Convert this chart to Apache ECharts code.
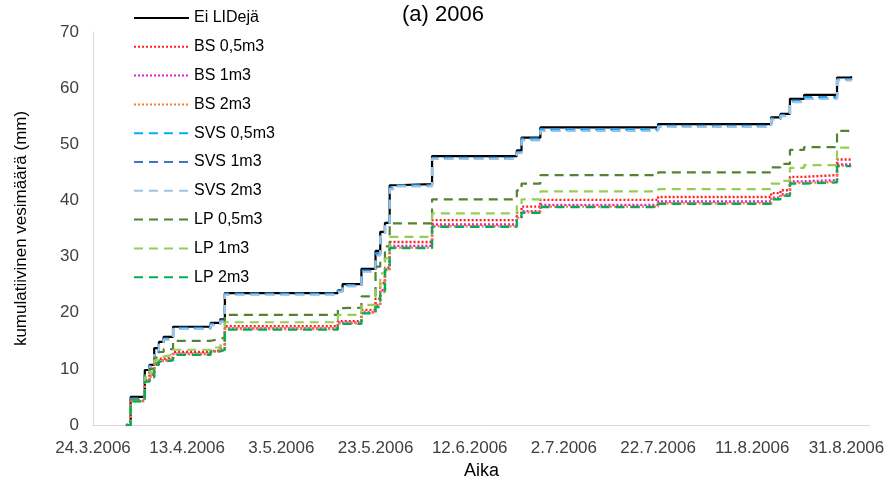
<!DOCTYPE html>
<html>
<head>
<meta charset="utf-8">
<script src="https://cdn.jsdelivr.net/npm/echarts@6/dist/echarts.min.js"></script>
<style>html,body{margin:0;padding:0;background:#fff}#c{width:888px;height:478px}</style>
</head>
<body>
<div id="c"></div>
<script>
const startDate = '2006-03-24';
const endDate = '2006-09-05';
const dates = ['2006-03-31','2006-04-01','2006-04-04','2006-04-05','2006-04-06','2006-04-07','2006-04-08','2006-04-10','2006-04-18','2006-04-20','2006-04-21','2006-05-15','2006-05-16','2006-05-20','2006-05-23','2006-05-24','2006-05-25','2006-05-26','2006-05-27','2006-06-04','2006-06-22','2006-06-23','2006-06-27','2006-07-22','2006-08-15','2006-08-17','2006-08-19','2006-08-22','2006-08-29','2006-09-01'];
const eiLIDeja = [0,5.0,9.8,10.7,13.7,14.8,15.7,17.5,18.2,18.8,23.5,24.0,25.1,27.8,31.0,34.4,36.0,42.7,42.9,47.9,48.9,51.2,53.0,53.6,54.8,55.4,58.1,58.8,61.9,62.1];
const bs05 = [0,4.3,8.0,9.0,11.0,11.8,12.0,13.0,13.3,13.7,17.6,18.5,18.5,20.5,22.5,25.3,28.0,32.6,32.6,36.5,37.8,38.9,40.1,40.6,41.3,41.8,44.2,44.5,47.3,47.3];
const bs1 = [0,4.3,7.9,8.7,10.9,11.5,11.7,12.7,13.2,13.5,17.2,18.2,18.2,20.1,21.4,24.0,27.8,31.9,31.9,35.7,37.1,38.1,39.2,39.8,40.5,41.1,43.4,43.6,46.4,46.4];
const bs2 = [0,4.2,7.8,8.6,10.8,11.4,11.6,12.6,13.1,13.4,17.1,18.1,18.1,20.0,21.2,23.7,27.7,31.6,31.6,35.4,36.9,37.9,38.9,39.5,40.3,40.9,43.1,43.3,46.2,46.2];
const svs05 = [0,4.7,9.3,10.5,13.1,14.5,15.4,17.3,18.0,18.6,23.4,23.9,24.9,27.5,30.6,33.9,35.7,42.3,42.7,47.6,48.6,51.0,52.7,53.3,54.6,55.2,57.8,58.4,61.6,61.8];
const svs1 = [0,4.6,9.1,10.4,12.9,14.4,15.3,17.2,17.9,18.5,23.3,23.8,24.8,27.4,30.4,33.7,35.5,42.1,42.6,47.5,48.5,50.8,52.5,53.2,54.5,55.1,57.6,58.2,61.5,61.7];
const svs2 = [0,4.5,9.0,10.3,12.8,14.3,15.2,17.1,17.8,18.4,23.2,23.7,24.7,27.3,30.2,33.5,35.4,42.0,42.5,47.4,48.4,50.7,52.4,53.1,54.4,55.0,57.5,58.1,61.4,61.6];
const lp05 = [0,4.5,9.0,10.0,12.0,13.0,13.5,15.0,15.3,15.6,19.6,20.8,20.9,22.9,28.2,29.5,31.8,35.9,35.9,40.2,41.8,43.0,44.5,45.0,45.9,46.5,49.0,49.5,52.4,52.4];
const lp1 = [0,4.3,8.5,9.5,11.5,12.2,12.5,13.4,13.8,14.2,18.3,19.6,19.6,21.4,24.5,27.0,29.7,33.5,33.5,37.7,39.0,40.2,41.6,42.0,43.0,43.5,45.8,46.3,49.4,49.4];
const lp2 = [0,4.2,7.7,8.5,10.7,11.3,11.5,12.5,13.1,13.4,17.0,18.0,18.0,19.9,21.0,23.5,27.6,31.5,31.5,35.3,36.8,37.8,38.8,39.4,40.2,40.8,43.0,43.2,46.1,46.1];
const seriesNames = ['Ei LIDejä','BS 0,5m3','BS 1m3','BS 2m3','SVS 0,5m3','SVS 1m3','SVS 2m3','LP 0,5m3','LP 1m3','LP 2m3'];
const seriesValues = [eiLIDeja,bs05,bs1,bs2,svs05,svs1,svs2,lp05,lp1,lp2];
const yTicks = [0,10,20,30,40,50,60,70];

const DAY = 86400000;
const t0 = Date.parse(startDate + 'T00:00:00Z');
const toDay = s => Math.round((Date.parse(s + 'T00:00:00Z') - t0) / DAY);
const fmt = d => { const dt = new Date(t0 + d * DAY); return dt.getUTCDate() + '.' + (dt.getUTCMonth() + 1) + '.' + dt.getUTCFullYear(); };

const styles = [
  {color:'#000000', width:2.2, type:'solid'},
  {color:'#FF2020', width:2.4, type:[2,2]},
  {color:'#E020D0', width:2.4, type:[2,2]},
  {color:'#F08030', width:2.4, type:[2,2]},
  {color:'#00B0F0', width:2.2, type:[9,6]},
  {color:'#4472C4', width:2.2, type:[9,6]},
  {color:'#9DC3E6', width:2.2, type:[9,6]},
  {color:'#548235', width:2.2, type:[9,6]},
  {color:'#92D050', width:2.2, type:[9,6]},
  {color:'#00B050', width:2.2, type:[9,6]}
];

const chart = echarts.init(document.getElementById('c'), null, {renderer:'canvas'});
chart.setOption({
  animation: false,
  backgroundColor: '#ffffff',
  title: {
    text: '(a) 2006', left: 402, top: 4, padding: 0,
    textStyle: {fontFamily:'Liberation Sans', fontSize: 22, fontWeight: 'normal', color: '#000'}
  },
  legend: {
    orient: 'vertical', left: 133, top: 10, padding: 0,
    itemWidth: 55, itemHeight: 14, itemGap: 12.8,
    itemStyle: {opacity: 0},
    textStyle: {fontFamily:'Liberation Sans', fontSize: 16, color: '#000'},
    data: seriesNames
  },
  grid: {left: 93, right: 18, top: 32, bottom: 53, containLabel: false, outerBoundsMode: 'none'},
  xAxis: {
    type: 'value', min: 0, max: toDay(endDate), interval: 20,
    name: 'Aika', nameLocation: 'middle', nameGap: 34,
    nameTextStyle: {fontFamily:'Liberation Sans', fontSize: 18, color: '#000'},
    axisLine: {show: true, lineStyle: {color: '#D9D9D9', width: 1}},
    axisTick: {show: false},
    splitLine: {show: false},
    axisLabel: {
      fontFamily:'Liberation Sans', fontSize: 17, color: '#404040', margin: 15,
      showMaxLabel: false,
      formatter: v => (v % 20 === 0 ? fmt(v) : '')
    }
  },
  yAxis: {
    type: 'value', min: yTicks[0], max: yTicks[yTicks.length-1], interval: 10,
    name: 'kumulatiivinen vesimäärä (mm)', nameLocation: 'middle', nameGap: 63,
    nameTextStyle: {fontFamily:'Liberation Sans', fontSize: 17, color: '#000'},
    axisLine: {show: true, lineStyle: {color: '#D9D9D9', width: 1}},
    axisTick: {show: false},
    splitLine: {show: false},
    axisLabel: {fontFamily:'Liberation Sans', fontSize: 17, color: '#404040', margin: 14}
  },
  series: seriesNames.map((n, i) => ({
    name: n, type: 'line', step: 'end', symbol: 'none', showSymbol: false,
    lineStyle: {color: styles[i].color, width: styles[i].width, type: styles[i].type},
    itemStyle: {color: styles[i].color},
    data: dates.map((d, k) => [toDay(d), seriesValues[i][k]])
  }))
});
</script>
</body>
</html>
